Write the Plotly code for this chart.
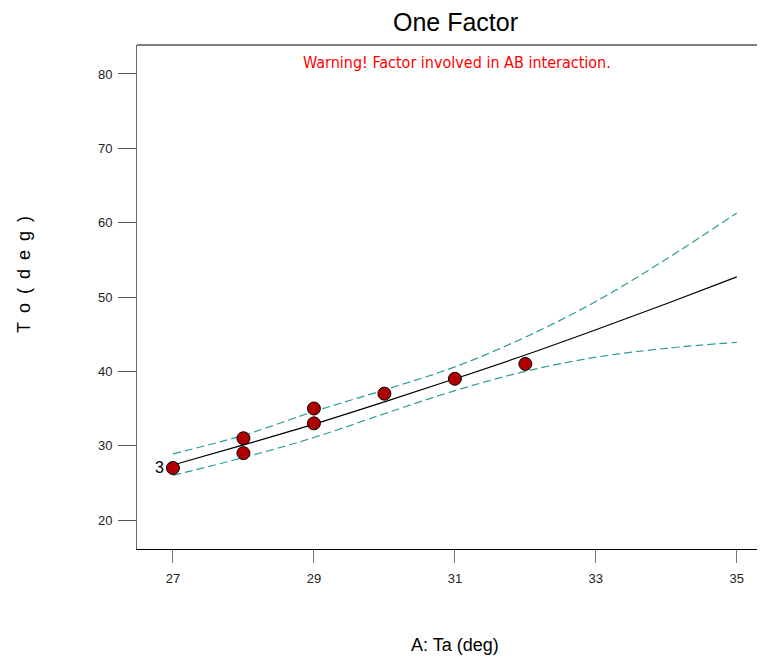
import plotly.graph_objects as go

# Observed design points (A: Ta, response To)
pt_x = [27, 28, 28, 29, 29, 30, 31, 32]
pt_y = [27, 31, 29, 35, 33, 37, 39, 41]

# Model prediction and 95% CI bands
curve_x = [27, 28, 29, 30, 31, 32, 33, 34, 35]
pred_y = [27.4, 30.1, 32.9, 35.9, 39.0, 42.2, 45.6, 49.1, 52.7]
upper_y = [28.9, 31.4, 34.6, 37.5, 40.6, 44.6, 49.4, 55.1, 61.3]
lower_y = [26.0, 28.4, 31.1, 34.3, 37.4, 40.0, 41.9, 43.1, 43.9]

x_ticks = [27, 29, 31, 33, 35]
y_ticks = [20, 30, 40, 50, 60, 70, 80]

OFF = 8  # page body margin offset
W, H = 765 - OFF, 657 - OFF
L, R, T, B = 137 - OFF, 0, 45 - OFF, 108

band_color = "#2E9B9B"
cond = "DejaVu Sans Condensed, Liberation Sans, Arial"
sans = "Liberation Sans, Arial"

fig = go.Figure()
fig.add_trace(go.Scatter(x=curve_x, y=upper_y, mode="lines", line_shape="spline",
                         line=dict(color=band_color, width=1.2, dash="8px,4px"), showlegend=False))
fig.add_trace(go.Scatter(x=curve_x, y=lower_y, mode="lines", line_shape="spline",
                         line=dict(color=band_color, width=1.2, dash="8px,4px"), showlegend=False))
fig.add_trace(go.Scatter(x=curve_x, y=pred_y, mode="lines", line_shape="spline",
                         line=dict(color="black", width=1.2), showlegend=False))
fig.add_trace(go.Scatter(x=pt_x, y=pt_y, mode="markers",
                         marker=dict(color="#B00000", size=13, line=dict(color="black", width=1)),
                         showlegend=False))

fig.update_xaxes(range=[26.49, 35.4], tickvals=x_ticks, ticktext=[str(v) for v in x_ticks],
                 showgrid=False, zeroline=False, showline=True, linecolor="black", linewidth=1,
                 ticks="outside", ticklen=13, tickcolor="#777", tickwidth=1, ticklabelstandoff=4,
                 tickfont=dict(family=sans, size=13, color="#222"))
fig.update_yaxes(range=[16.1, 83.9], tickvals=y_ticks, ticktext=[str(v) for v in y_ticks],
                 showgrid=False, zeroline=False, showline=True, linecolor="#666", linewidth=1,
                 ticks="outside", ticklen=18, tickcolor="#555", tickwidth=1, ticklabelstandoff=3,
                 tickfont=dict(family=sans, size=13, color="#222"))

fig.add_shape(type="line", xref="paper", yref="paper", x0=0, x1=1, y0=1, y1=1,
              line=dict(color="black", width=1))

ph = H - T - B
pw = W - L - R
def py(pix):
    return (H - B - (pix - OFF)) / ph
def px(pix):
    return (pix - OFF - L) / pw

fig.add_annotation(text="One Factor", xref="paper", yref="paper", x=px(455), y=py(22),
                   showarrow=False, font=dict(family=sans, size=25, color="black"),
                   xanchor="center", yanchor="middle")
fig.add_annotation(text="Warning! Factor involved in AB interaction.", xref="paper", yref="paper",
                   x=px(457), y=py(62), showarrow=False,
                   font=dict(family=cond, size=16, color="#FF0000"),
                   xanchor="center", yanchor="middle")
fig.add_annotation(text="A: Ta (deg)", xref="paper", yref="paper", x=px(455), y=py(645),
                   showarrow=False, font=dict(family=sans, size=18, color="black"),
                   xanchor="center", yanchor="middle")
fig.add_annotation(text="T\u2002o\u2002(\u2002d\u2002e\u2002g\u2002)", xref="paper", yref="paper",
                   x=px(24), y=py(275), showarrow=False, textangle=-90,
                   font=dict(family=sans, size=18, color="black"),
                   xanchor="center", yanchor="middle")
fig.add_annotation(text="3", x=pt_x[0], y=pt_y[0], xref="x", yref="y", showarrow=False,
                   xanchor="right", yanchor="middle", xshift=-7,
                   font=dict(family=sans, size=16, color="black"))

fig.update_layout(width=W, height=H, margin=dict(l=L, r=R, t=T, b=B),
                  plot_bgcolor="white", paper_bgcolor="white")

fig.write_html("out.html")
